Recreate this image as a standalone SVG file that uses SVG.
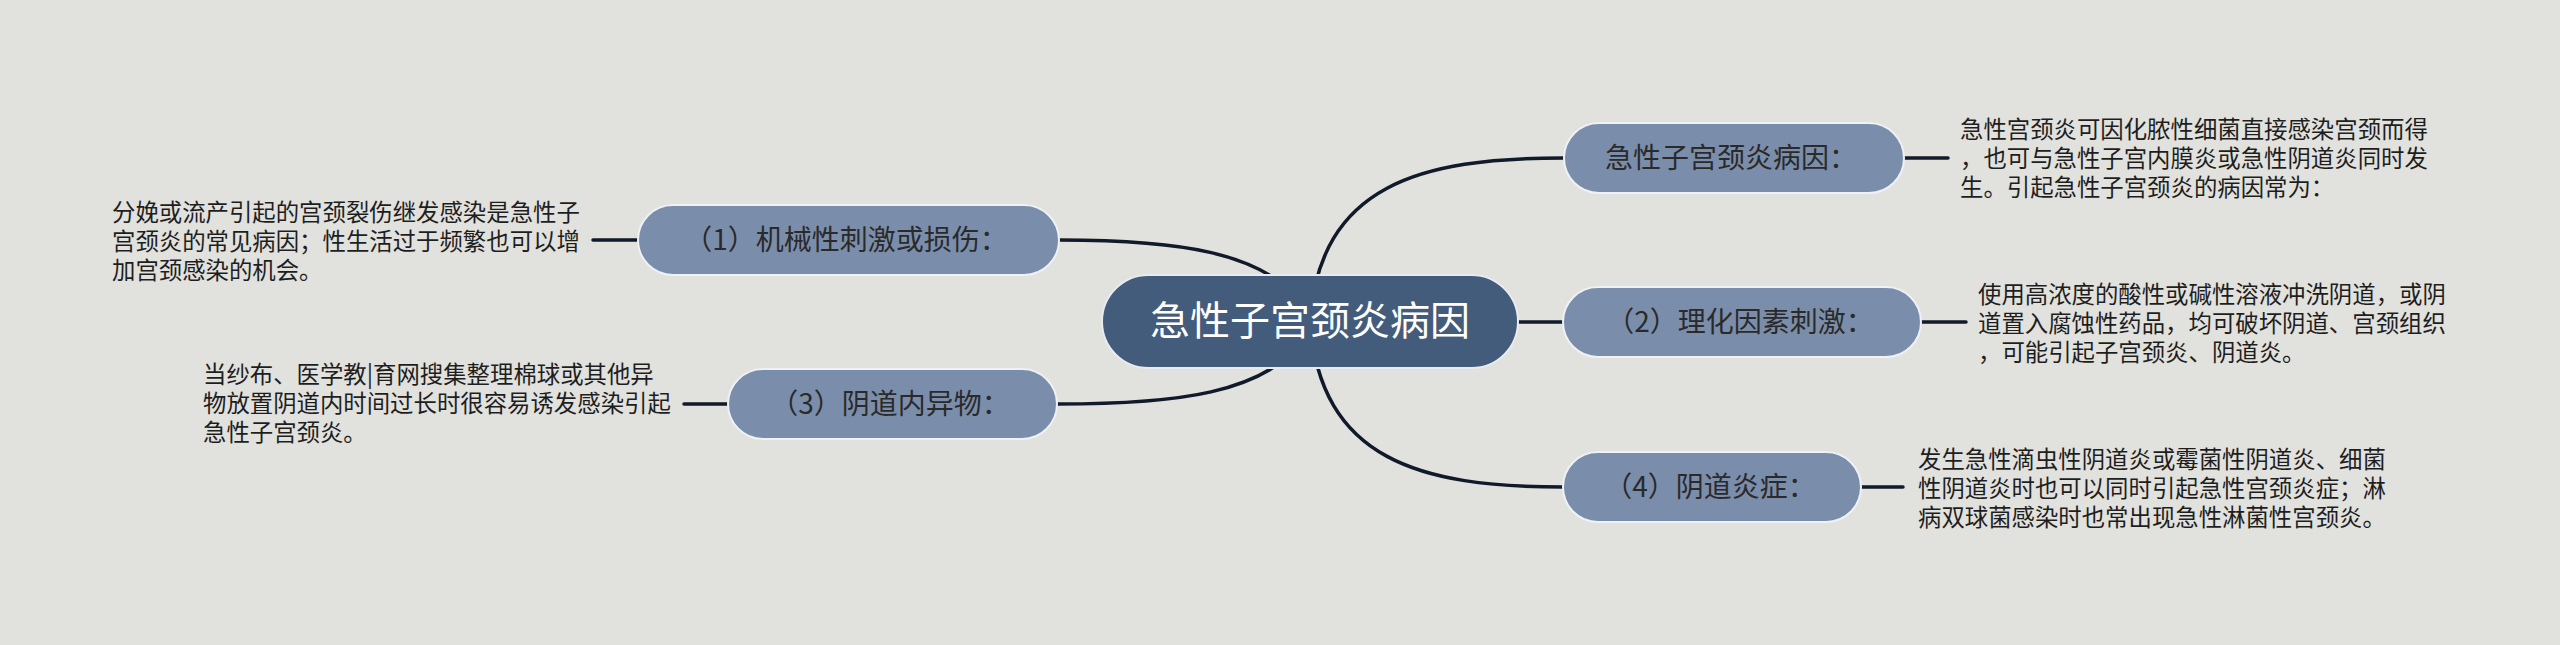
<svg xmlns="http://www.w3.org/2000/svg" width="2560" height="645" viewBox="0 0 2560 645">
<style>
.bg{fill:#e1e1dd}
.conn{fill:none;stroke:#101a2a;stroke-width:3.5;stroke-linecap:round}
.center rect{fill:#445c7c;stroke:#e8ecf0;stroke-width:2}
.center text{fill:#ffffff;font-size:40px;text-anchor:middle}
.topic rect{fill:#7a8eab;stroke:#eef1f5;stroke-width:2}
.topic text{fill:#2a2a2a;font-size:28px;text-anchor:middle}
.desc{fill:#1e1e1e;font-size:23.4px}
text{font-family:"Noto Sans CJK SC","Noto Sans",sans-serif}
</style>
<rect class="bg" x="0" y="0" width="2560" height="645"/>
<g id="connectors">
<path class="conn" d="M1310 321 C1320 185 1420 158 1563 158"/>
<path class="conn" d="M1518 322 L1563 322"/>
<path class="conn" d="M1310 321 C1320 460 1420 487 1563 487"/>
<path class="conn" d="M1305 305 C1262 252 1180 240 1059 240"/>
<path class="conn" d="M1305 340 C1262 393 1180 404 1057 404"/>
<path class="conn" d="M1903 158 L1948 158"/>
<path class="conn" d="M1921 322 L1966 322"/>
<path class="conn" d="M1861 487 L1903 487"/>
<path class="conn" d="M593 240 L638 240"/>
<path class="conn" d="M684 404 L728 404"/>
</g>
<g id="center" class="center">
<rect x="1102" y="275" width="416" height="93" rx="46.5"/>
<text x="1310" y="335">急性子宫颈炎病因</text>
</g>
<g id="node-cause" class="topic">
<rect x="1564" y="123" width="340" height="70" rx="35"/>
<text x="1731" y="168">急性子宫颈炎病因：</text>
</g>
<g id="desc-cause">
<text class="desc" x="1960" y="138">急性宫颈炎可因化脓性细菌直接感染宫颈而得</text>
<text class="desc" x="1960" y="167">，也可与急性子宫内膜炎或急性阴道炎同时发</text>
<text class="desc" x="1960" y="196">生。引起急性子宫颈炎的病因常为：</text>
</g>
<g id="node-2" class="topic">
<rect x="1563" y="287" width="358" height="70" rx="35"/>
<text x="1740" y="332">（2）理化因素刺激：</text>
</g>
<g id="desc-2">
<text class="desc" x="1978" y="303">使用高浓度的酸性或碱性溶液冲洗阴道，或阴</text>
<text class="desc" x="1978" y="332">道置入腐蚀性药品，均可破坏阴道、宫颈组织</text>
<text class="desc" x="1978" y="361">，可能引起子宫颈炎、阴道炎。</text>
</g>
<g id="node-4" class="topic">
<rect x="1563" y="452" width="298" height="70" rx="35"/>
<text x="1710" y="497">（4）阴道炎症：</text>
</g>
<g id="desc-4">
<text class="desc" x="1918" y="468">发生急性滴虫性阴道炎或霉菌性阴道炎、细菌</text>
<text class="desc" x="1918" y="497">性阴道炎时也可以同时引起急性宫颈炎症；淋</text>
<text class="desc" x="1918" y="526">病双球菌感染时也常出现急性淋菌性宫颈炎。</text>
</g>
<g id="node-1" class="topic">
<rect x="638" y="205" width="421" height="70" rx="35"/>
<text x="846" y="250">（1）机械性刺激或损伤：</text>
</g>
<g id="desc-1">
<text class="desc" x="112" y="221">分娩或流产引起的宫颈裂伤继发感染是急性子</text>
<text class="desc" x="112" y="250">宫颈炎的常见病因；性生活过于频繁也可以增</text>
<text class="desc" x="112" y="279">加宫颈感染的机会。</text>
</g>
<g id="node-3" class="topic">
<rect x="728" y="369" width="329" height="70" rx="35"/>
<text x="890" y="414">（3）阴道内异物：</text>
</g>
<g id="desc-3">
<text class="desc" x="203" y="383">当纱布、医学教|育网搜集整理棉球或其他异</text>
<text class="desc" x="203" y="412">物放置阴道内时间过长时很容易诱发感染引起</text>
<text class="desc" x="203" y="441">急性子宫颈炎。</text>
</g>
</svg>
